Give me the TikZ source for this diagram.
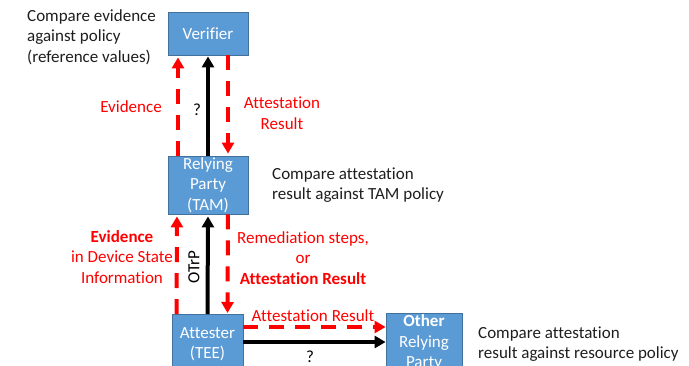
\documentclass[tikz,border=0pt]{standalone}
\usepackage{fontspec}
\setmainfont[Ligatures=NoCommon]{Carlito}
\usepackage{tikz}
\usetikzlibrary{arrows.meta, positioning}
\definecolor{BoxBlue}{RGB}{91, 155, 213}
\definecolor{BoxEdge}{RGB}{65, 113, 156}
\definecolor{NoteGrey}{RGB}{30, 30, 30}

\begin{document}
\begin{tikzpicture}[
    x=1pt, y=-1pt,
    font=\fontsize{17}{20.5}\selectfont,
    ebox/.style={draw=BoxEdge, fill=BoxBlue, line width=0.8pt, rectangle, inner sep=0pt, align=center, text=white},
    redarr/.style={-{Triangle[length=11pt, width=12pt]}, line width=4pt, color=red, dash pattern=on 15pt off 11pt},
    blkarr/.style={-{Triangle[length=11pt, width=12pt]}, line width=4pt, color=black},
    redlbl/.style={text=red, align=center, inner sep=0pt},
    note/.style={text=NoteGrey, align=left, inner sep=0pt, anchor=west}
]
\useasboundingbox (0,0) rectangle (689,365);
\clip (0,0) rectangle (689,365);
\node[ebox, minimum width=80pt, minimum height=43pt] (ver) at (208,33.5) {Verifier};
\node[ebox, minimum width=80pt, minimum height=58pt] (rp) at (208,185) {Relying\\Party\\(TAM)};
\node[ebox, minimum width=71pt, minimum height=60pt, anchor=north] (att) at (207.5,314) {Attester\\(TEE)};
\node[ebox, minimum width=76pt, minimum height=58pt, anchor=north] (orp) at (424,313) {\textbf{Other}\\Relying\\Party};
\node[note] (n1) at (27,37) {Compare evidence\\against policy\\(reference values)};
\node[note] (n2) at (272,185) {Compare attestation\\result against TAM policy};
\node[note] (n3) at (478,344) {Compare attestation\\result against resource policy};
\draw[redarr] ([xshift=-30pt]rp.north) -- ([xshift=-30pt, yshift=-2pt]ver.south);
\draw[blkarr] (rp.north) -- ([yshift=-1pt]ver.south);
\draw[redarr] ([xshift=20pt]ver.south) -- ([xshift=20pt, yshift=2pt]rp.north);
\draw[redarr] ([xshift=-31pt]att.north) -- ([xshift=-31pt, yshift=-2pt]rp.south);
\draw[blkarr] (att.north) -- ([yshift=-2pt]rp.south);
\draw[redarr] ([xshift=20pt]rp.south) -- ([xshift=20pt, yshift=1pt]att.north);
\coordinate (h1) at ([yshift=-13pt]att.north east);
\coordinate (h2) at ([yshift=-28pt]att.north east);
\draw[redarr] (h1) -- (h1 -| orp.west);
\draw[blkarr] (h2) -- (h2 -| orp.west);
\node[redlbl] (l1) at (131,107) {Evidence};
\node[inner sep=0pt] (q1) at (197,110) {?};
\node[redlbl] (l2) at (282,113) {Attestation\\Result};
\node[redlbl] (l3) at (122,257) {\textbf{Evidence}\\in Device State\\Information};
\node[inner sep=0pt, rotate=90] (otrp) at (194,267) {OTrP};
\node[redlbl] (l4) at (303,258) {Remediation steps,\\or\\\textbf{Attestation Result}};
\node[redlbl] (l5) at (313,316) {Attestation Result};
\node[inner sep=0pt] (q2) at (310,357) {?};
\end{tikzpicture}
\end{document}
